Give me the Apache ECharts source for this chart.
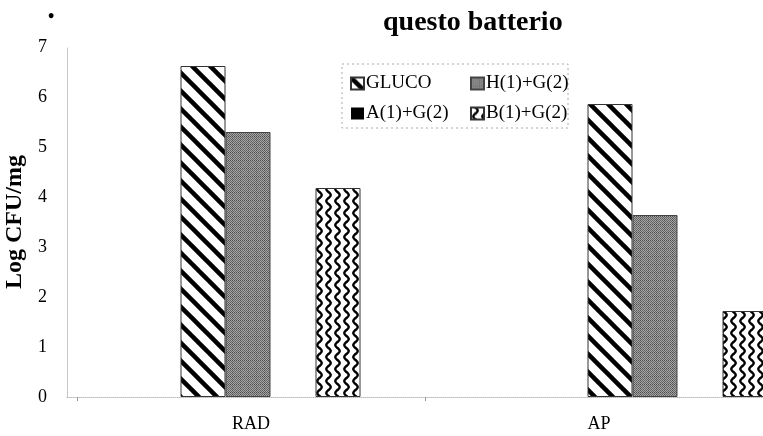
<!DOCTYPE html>
<html>
<head>
<meta charset="utf-8">
<script src="https://cdn.jsdelivr.net/npm/echarts@6/dist/echarts.min.js"></script>
<style>
html,body{margin:0;padding:0;background:#fff;}
#main{width:763px;height:436px;}
</style>
</head>
<body>
<div id="main"></div>
<script>
var categories = ['RAD', 'AP'];
var seriesNames = ['GLUCO', 'H(1)+G(2)', 'A(1)+G(2)', 'B(1)+G(2)'];
var glucoValues = [6.62, 5.86];
var hValues = [5.3, 3.64];
var aValues = [0, 0];
var bValues = [4.18, 1.72];
var yTicks = [0, 1, 2, 3, 4, 5, 6, 7];

var SERIF = '"Liberation Serif", "Times New Roman", serif';

function makeCanvas(w, h) {
  var c = document.createElement('canvas');
  c.width = w; c.height = h;
  return c;
}
function stripePattern() {
  var s = 18;
  var c = makeCanvas(s, s), ctx = c.getContext('2d');
  ctx.fillStyle = '#fff'; ctx.fillRect(0, 0, s, s);
  ctx.strokeStyle = '#000'; ctx.lineWidth = 4.5;
  [-s, 0, s].forEach(function (k) {
    ctx.beginPath(); ctx.moveTo(k - 2, -2); ctx.lineTo(k + s + 2, s + 2); ctx.stroke();
  });
  return c;
}
function grayPattern() {
  var c = makeCanvas(8, 8), ctx = c.getContext('2d');
  for (var y = 0; y < 8; y++) {
    for (var x = 0; x < 8; x++) {
      var dark = (x + y) % 2 === 0;
      var v = dark ? 100 : 165;
      if ((x === 0 || y === 0) && dark) v = 75;
      ctx.fillStyle = 'rgb(' + v + ',' + v + ',' + v + ')';
      ctx.fillRect(x, y, 1, 1);
    }
  }
  return c;
}
function wavePattern() {
  var w = 9, h = 12;
  var c = makeCanvas(w, h), ctx = c.getContext('2d');
  ctx.fillStyle = '#fff'; ctx.fillRect(0, 0, w, h);
  ctx.strokeStyle = '#000'; ctx.lineWidth = 2.4;
  ctx.beginPath();
  for (var y = -1; y <= h + 1; y += 0.5) {
    var x = 4.5 + 2.2 * Math.sin(2 * Math.PI * y / h);
    if (y === -1) ctx.moveTo(x, y); else ctx.lineTo(x, y);
  }
  ctx.stroke();
  return c;
}

var chart = echarts.init(document.getElementById('main'), null, {renderer: 'canvas'});

var legendCommon = {
  orient: 'vertical', top: 69, padding: 5,
  icon: 'rect', itemWidth: 13, itemHeight: 12, itemGap: 11,
  textStyle: {fontFamily: SERIF, fontSize: 19, color: '#000', padding: [0, 0, 0, -3]}
};

var option = {
  backgroundColor: '#fff',
  animation: false,
  title: {
    text: 'questo batterio',
    left: 378, top: 4,
    textStyle: {fontFamily: SERIF, fontWeight: 'bold', fontSize: 28, color: '#000'}
  },
  graphic: [
    {type: 'text', left: 48, top: 8, style: {text: '•', font: 'bold 18px ' + SERIF, fill: '#000'}},
    {type: 'rect', shape: {x: 342, y: 64, width: 226, height: 64},
     style: {fill: 'none', stroke: '#aaa', lineWidth: 1, lineDash: [2, 3]}}
  ],
  legend: [
    Object.assign({data: [seriesNames[0], seriesNames[2]], left: 345}, legendCommon),
    Object.assign({data: [seriesNames[1], seriesNames[3]], left: 465}, legendCommon)
  ],
  grid: [
    {left: 67, top: 47, width: 814, height: 350, containLabel: false, outerBoundsMode: 'none'},
    {left: 77, top: 47, width: 696, height: 350, containLabel: false, outerBoundsMode: 'none'}
  ],
  xAxis: [
    {
      type: 'category', gridIndex: 0, data: categories,
      axisLine: {show: true, lineStyle: {color: '#bbb', type: 'dotted', width: 1}},
      axisTick: {show: false},
      axisLabel: {show: false}
    },
    {
      type: 'category', gridIndex: 1, data: categories,
      axisLine: {show: false},
      axisTick: {show: true, length: 4, lineStyle: {color: '#999'}},
      axisLabel: {show: true, margin: 18, fontFamily: SERIF, fontSize: 18, color: '#000'}
    }
  ],
  yAxis: [
    {
      type: 'value', gridIndex: 0, min: yTicks[0], max: yTicks[yTicks.length - 1], interval: 1,
      name: 'Log CFU/mg', nameLocation: 'middle', nameGap: 34,
      nameTextStyle: {fontFamily: SERIF, fontWeight: 'bold', fontSize: 24, color: '#000'},
      axisLine: {show: true, lineStyle: {color: '#bbb', type: 'dotted', width: 1}},
      axisTick: {show: false},
      splitLine: {show: false},
      axisLabel: {margin: 20, fontFamily: SERIF, fontSize: 18, color: '#000'}
    },
    {type: 'value', gridIndex: 1, show: false, min: 0, max: 7}
  ],
  series: [
    {name: seriesNames[0], type: 'bar', xAxisIndex: 0, yAxisIndex: 0, data: glucoValues,
     barWidth: 45, barGap: '0%',
     itemStyle: {color: {image: stripePattern(), repetition: 'repeat'}, borderColor: '#333', borderWidth: 1}},
    {name: seriesNames[1], type: 'bar', xAxisIndex: 0, yAxisIndex: 0, data: hValues,
     barWidth: 45, barGap: '0%',
     itemStyle: {color: {image: grayPattern(), repetition: 'repeat'}, borderColor: '#444', borderWidth: 1}},
    {name: seriesNames[2], type: 'bar', xAxisIndex: 0, yAxisIndex: 0, data: aValues,
     barWidth: 45, barGap: '0%',
     itemStyle: {color: '#000', borderWidth: 0}},
    {name: seriesNames[3], type: 'bar', xAxisIndex: 0, yAxisIndex: 0, data: bValues,
     barWidth: 45, barGap: '0%',
     itemStyle: {color: {image: wavePattern(), repetition: 'repeat'}, borderColor: '#333', borderWidth: 1}}
  ]
};
chart.setOption(option);
</script>
</body>
</html>
